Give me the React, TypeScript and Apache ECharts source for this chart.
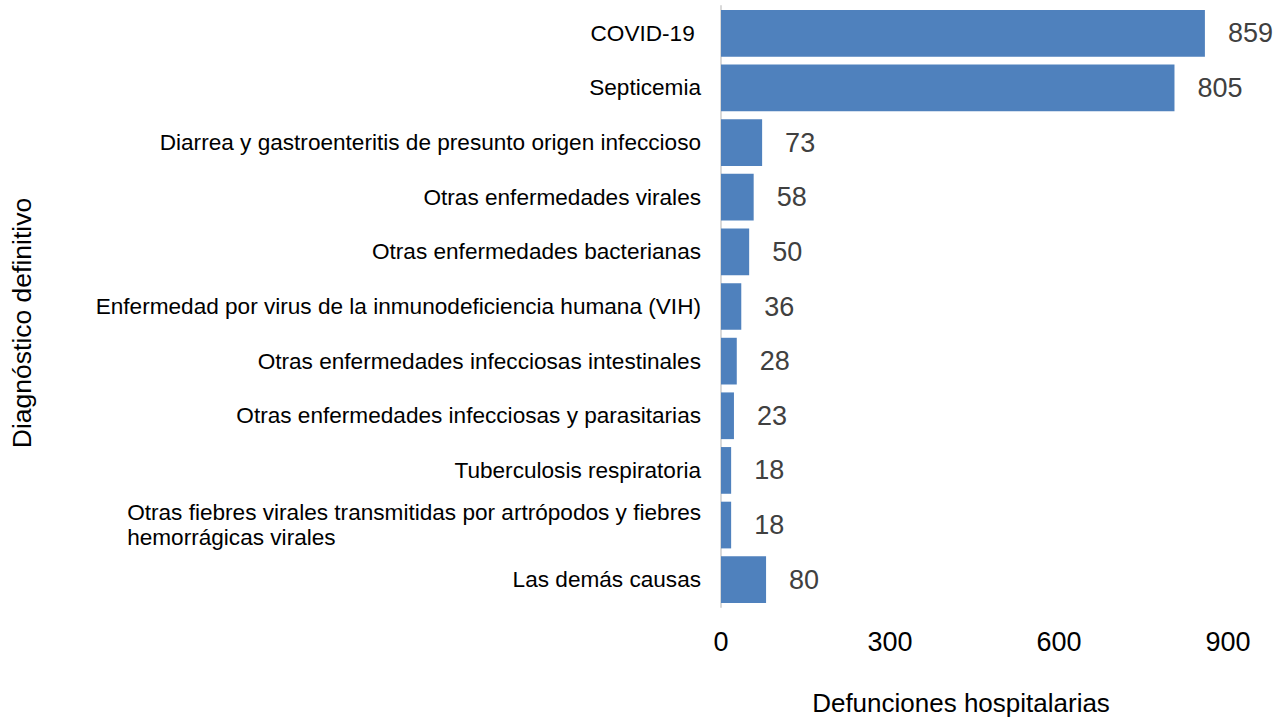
import React, { useEffect, useRef } from "react";
import * as echarts from "echarts";

const categories = [
  "COVID-19 ",
  "Septicemia",
  "Diarrea y gastroenteritis de presunto origen infeccioso",
  "Otras enfermedades virales",
  "Otras enfermedades bacterianas",
  "Enfermedad por virus de la inmunodeficiencia humana (VIH)",
  "Otras enfermedades infecciosas intestinales",
  "Otras enfermedades infecciosas y parasitarias",
  "Tuberculosis respiratoria",
  "Otras fiebres virales transmitidas por artrópodos y fiebres\nhemorrágicas virales",
  "Las demás causas",
];
const values = [859, 805, 73, 58, 50, 36, 28, 23, 18, 18, 80];
const xTicks = [0, 300, 600, 900];
const xAxisName = "Defunciones hospitalarias";
const yAxisName = "Diagnóstico definitivo";

const FONT = "'Liberation Sans', Arial, sans-serif";
const CAT_SIZE = 22.6;

function measure(text: string, size: number): number {
  const c = document.createElement("canvas").getContext("2d");
  if (!c) return text.length * size * 0.5;
  c.font = `${size}px 'Liberation Sans', Arial`;
  return c.measureText(text).width;
}

export default function App() {
  const ref = useRef<HTMLDivElement>(null);
  useEffect(() => {
    if (!ref.current) return;
    const chart = echarts.init(ref.current, undefined, { renderer: "svg" });
    const multiWidth = Math.max(
      ...categories
        .filter((c) => c.includes("\n"))
        .flatMap((c) => c.split("\n").map((l) => measure(l, CAT_SIZE)))
    );
    chart.setOption({
      animation: false,
      grid: { left: 721, right: 56, top: 6, bottom: 112, containLabel: false },
      xAxis: {
        type: "value",
        min: xTicks[0],
        max: xTicks[xTicks.length - 1],
        interval: xTicks[1] - xTicks[0],
        axisLine: { show: false },
        axisTick: { show: false },
        splitLine: { show: false },
        axisLabel: { color: "#000", fontSize: 27, fontFamily: FONT, margin: 21 },
      },
      yAxis: {
        type: "category",
        inverse: true,
        data: categories,
        axisLine: { show: true, lineStyle: { color: "#D9D9D9", width: 2 } },
        axisTick: { show: false },
        axisLabel: {
          color: "#000",
          fontSize: CAT_SIZE,
          fontFamily: FONT,
          margin: 20,
          lineHeight: 25,
          formatter: (v: string) =>
            v.includes("\n")
              ? v
                  .split("\n")
                  .map((l) => `{l|${l}}`)
                  .join("\n")
              : v,
          rich: {
            l: {
              width: multiWidth,
              align: "left",
              fontSize: CAT_SIZE,
              fontFamily: FONT,
              color: "#000",
              lineHeight: 25,
            },
          },
        },
      },
      series: [
        {
          type: "bar",
          data: values,
          barCategoryGap: "14.5%",
          itemStyle: { color: "#4F81BD" },
          label: {
            show: true,
            position: "right",
            distance: 23,
            color: "#404040",
            fontSize: 27,
            fontFamily: FONT,
          },
        },
      ],
      graphic: [
        {
          type: "text",
          x: 961,
          y: 703,
          style: {
            text: xAxisName,
            fontSize: 26,
            fontFamily: FONT,
            fill: "#000",
            align: "center",
            verticalAlign: "middle",
          },
        },
        {
          type: "text",
          x: 22,
          y: 323,
          rotation: Math.PI / 2,
          style: {
            text: yAxisName,
            fontSize: 26.5,
            fontFamily: FONT,
            fill: "#000",
            align: "center",
            verticalAlign: "middle",
          },
        },
      ],
    });
    return () => chart.dispose();
  }, []);
  return <div ref={ref} style={{ width: 1284, height: 719, position: "absolute", left: 0, top: 0 }} />;
}
